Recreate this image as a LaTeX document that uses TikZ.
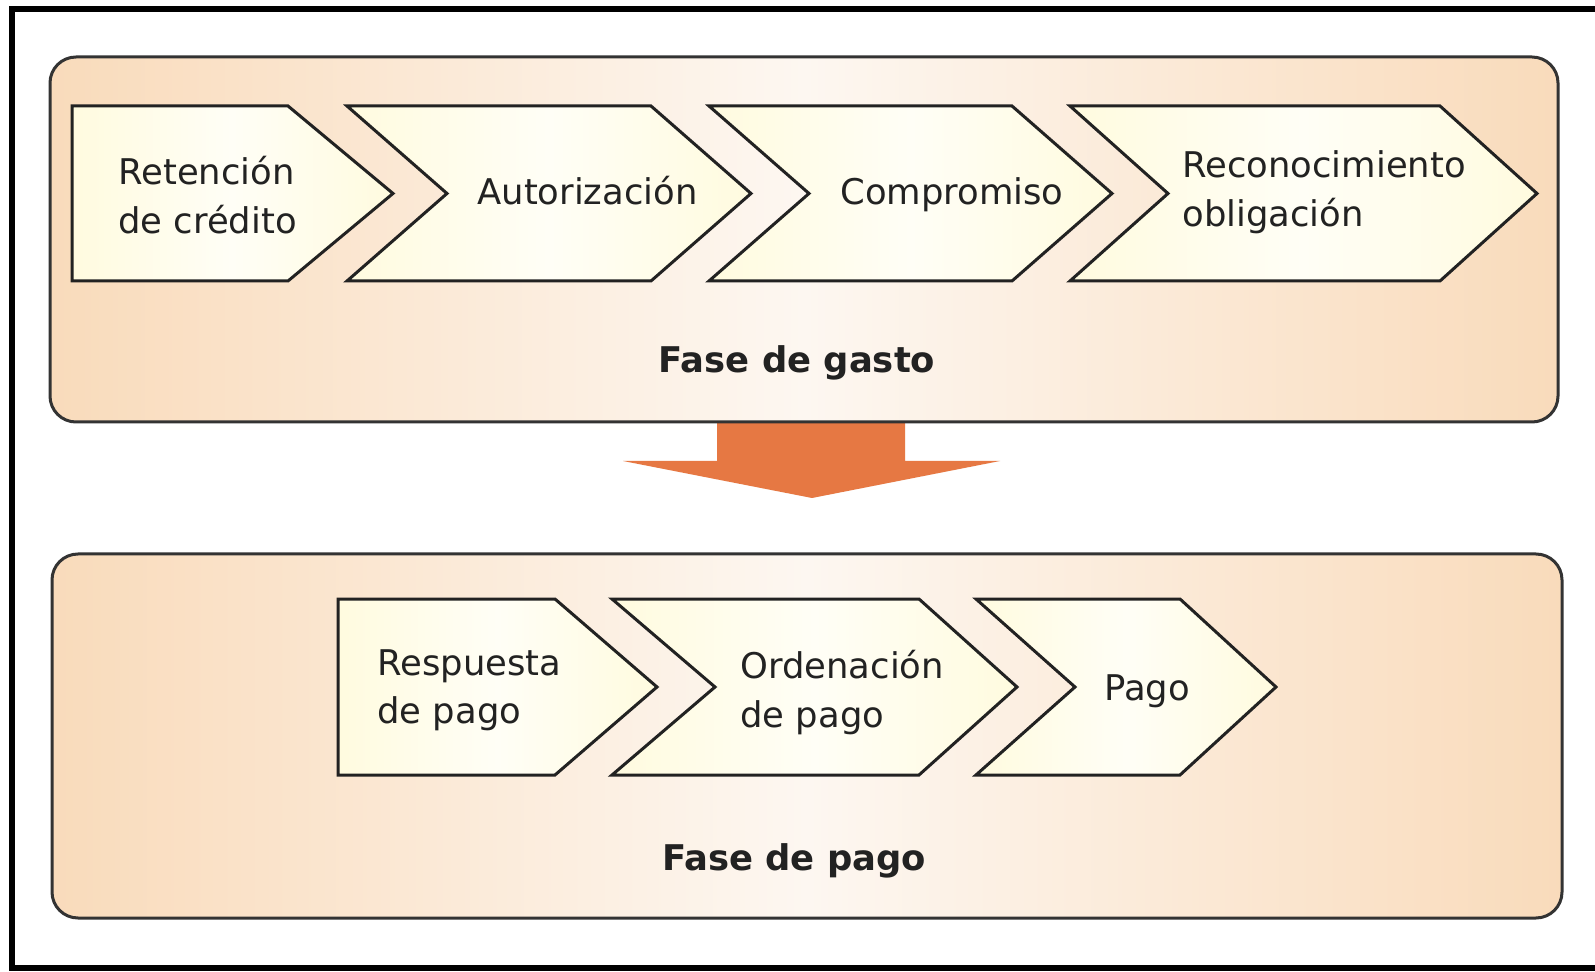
\documentclass[tikz,border=0pt]{standalone}
\usepackage{fontspec}
\setmainfont{DejaVu Sans}
\definecolor{peach}{HTML}{F9DBBB}
\definecolor{peachmid}{HTML}{FDF7F1}
\definecolor{chevfill}{HTML}{FFFBDF}
\definecolor{chevmid}{HTML}{FFFEF6}
\definecolor{arroworange}{HTML}{E67843}
\definecolor{panelline}{HTML}{333333}
\definecolor{inkcol}{HTML}{222222}
\newcommand\twolines[2]{\vtop{\baselineskip=24.5pt\hbox{#1}\hbox{#2}}}
\begin{document}
\begin{tikzpicture}[x=0.5pt,y=-0.5pt,
  panel/.style={draw=panelline, line width=1.5pt, rounded corners=13pt,
    left color=peach, right color=peach, middle color=peachmid},
  chev/.style={draw=inkcol, line width=1.5pt, line join=miter,
    left color=chevfill, right color=chevfill, middle color=chevmid},
  lbl/.style={inner sep=0pt, text=inkcol, font=\fontsize{17.7pt}{24.5pt}\selectfont},
  ttl/.style={inner sep=0pt, text=inkcol, font=\fontsize{17.7pt}{24.5pt}\selectfont\bfseries}]
\useasboundingbox (0,0) rectangle (1595,972);
\fill[white] (0,0) rectangle (1595,972);
% outer frame (no right side)
\draw[line width=3pt, line join=miter] (1595,9) -- (12,9) -- (12,968) -- (1595,968);
% down arrow
\fill[arroworange] (717,420) -- (905,420) -- (905,461) -- (1000,461) -- (812,498)
  -- (623,461) -- (717,461) -- cycle;
% panels
\draw[panel] (50,57) rectangle (1558,422);
\draw[panel] (52,554) rectangle (1562,918);
% top chevrons
\draw[chev] (72,106) -- (288,106) -- (393,193.5) -- (288,281) -- (72,281) -- cycle;
\draw[chev] (347,106) -- (651,106) -- (751,193.5) -- (651,281) -- (347,281) -- (447,193.5) -- cycle;
\draw[chev] (709,106) -- (1012,106) -- (1112,193.5) -- (1012,281) -- (709,281) -- (809,193.5) -- cycle;
\draw[chev] (1070,106) -- (1440,106) -- (1537,193.5) -- (1440,281) -- (1070,281) -- (1168,193.5) -- cycle;
% bottom chevrons
\draw[chev] (338,599) -- (555,599) -- (657,687) -- (555,775) -- (338,775) -- cycle;
\draw[chev] (612,599) -- (919,599) -- (1017,687) -- (919,775) -- (612,775) -- (715,687) -- cycle;
\draw[chev] (976,599) -- (1180,599) -- (1276,687) -- (1180,775) -- (976,775) -- (1075,687) -- cycle;
% labels top
\node[lbl, anchor=base west] (ret) at (118,185) {\twolines{Retención}{de crédito}};
\node[lbl, anchor=base west] (aut) at (477,205) {Autorización};
\node[lbl, anchor=base west] (com) at (840,205) {Compromiso};
\node[lbl, anchor=base west] (rec) at (1182,178) {\twolines{Reconocimiento}{obligación}};
\node[ttl, anchor=base] (gasto) at (797,373) {Fase de gasto};
% labels bottom
\node[lbl, anchor=base west] (res) at (377,675) {\twolines{Respuesta}{de pago}};
\node[lbl, anchor=base west] (ord) at (740,678) {\twolines{Ordenación}{de pago}};
\node[lbl, anchor=base west] (pag) at (1104,700) {Pago};
\node[ttl, anchor=base] (fpago) at (794,870) {Fase de pago};
\end{tikzpicture}
\end{document}
